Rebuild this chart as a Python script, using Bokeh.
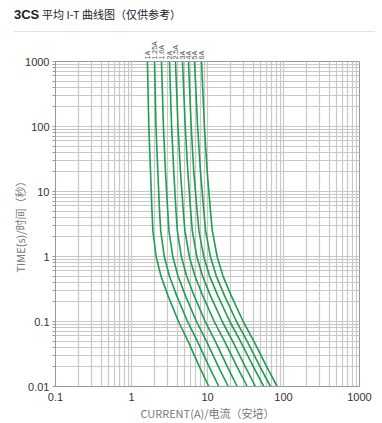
import math
from bokeh.plotting import figure
from bokeh.models import FixedTicker, Div, Range1d, LogAxis
from bokeh.layouts import column
from bokeh.embed import file_html
from bokeh.resources import INLINE

# shared time points (s)
times = [1000, 100, 20, 5, 2.5, 1, 0.5, 0.25, 0.1, 0.05, 0.02, 0.01]
ratings = ["1A", "1.25A", "1.6A", "2A", "2.5A", "3A", "4A", "5A", "6A"]

# current (A) of each curve at the time points above
cur_1A   = [1.62, 1.69, 1.78, 1.86, 1.91, 2.11, 2.44, 3.02, 4.15, 5.54, 7.85, 10.40]
cur_1_25A = [2.01, 2.10, 2.22, 2.34, 2.42, 2.70, 3.15, 3.93, 5.46, 7.34, 10.53, 14.08]
cur_1_6A = [2.48, 2.63, 2.80, 3.00, 3.11, 3.49, 4.09, 5.12, 7.17, 9.67, 13.95, 18.73]
cur_2A   = [3.16, 3.37, 3.60, 3.85, 4.01, 4.52, 5.31, 6.66, 9.33, 12.63, 18.28, 24.59]
cur_2_5A = [3.79, 4.09, 4.41, 4.80, 5.04, 5.76, 6.83, 8.65, 12.25, 16.74, 24.52, 33.30]
cur_3A   = [4.69, 5.09, 5.51, 6.01, 6.31, 7.23, 8.60, 10.92, 15.61, 21.39, 31.44, 42.81]
cur_4A   = [5.62, 6.10, 6.60, 7.30, 7.71, 8.91, 10.66, 13.66, 19.65, 27.10, 40.18, 55.05]
cur_5A   = [6.75, 7.41, 8.09, 8.94, 9.44, 10.92, 13.06, 16.74, 24.07, 33.20, 49.22, 67.45]
cur_6A   = [8.34, 9.10, 9.91, 10.95, 11.57, 13.38, 15.99, 20.51, 29.50, 40.67, 60.30, 82.64]

curves = [cur_1A, cur_1_25A, cur_1_6A, cur_2A, cur_2_5A, cur_3A, cur_4A, cur_5A, cur_6A]

x_ticks = [0.1, 1, 10, 100, 1000]
x_tick_labels = ["0.1", "1", "10", "100", "1000"]
y_ticks = [0.01, 0.1, 1, 10, 100, 1000]
y_tick_labels = ["0.01", "0.1", "1", "10", "100", "1000"]

title_bold = "3CS"
title_rest = "平均 I-T 曲线图（仅供参考）"
x_title = "CURRENT(A)/电流（安培）"
y_title = "TIME(s)/时间（秒）"

GREEN = "#1f9e4f"
GRID = "#c8c8c8"

def minors(lo, hi):
    out = []
    for k in range(lo, hi):
        for m in range(2, 10):
            out.append(m * 10.0 ** k)
    return out

div = Div(
    text=(
        '<div style="font-family:\'Noto Sans CJK SC\',\'Liberation Sans\';color:#222;'
        'line-height:16px;padding-top:6px;padding-left:14px;white-space:nowrap;">'
        '<span style="font-family:\'Liberation Sans\';font-weight:bold;font-size:13px;">'
        + title_bold + '</span> <span style="font-size:11px;">' + title_rest + '</span></div>'
        '<div style="margin-top:8px;margin-left:14px;width:361px;border-top:1px solid #e2e2e2;"></div>'
    ),
    width=374, height=36, margin=(0, 0, 0, 0),
)

p = figure(
    width=374, height=387,
    x_axis_type="log", y_axis_type="log",
    x_range=Range1d(0.1, 1000), y_range=Range1d(0.01, 1000),
    output_backend="svg", toolbar_location=None,
    min_border_top=25, min_border_left=55, min_border_right=15, min_border_bottom=0,
    background_fill_color="white", border_fill_color="white",
)
p.outline_line_color = "#999999"

p.xaxis.ticker = FixedTicker(ticks=x_ticks, minor_ticks=minors(-1, 3))
p.yaxis.ticker = FixedTicker(ticks=y_ticks, minor_ticks=minors(-2, 3))
p.xaxis.major_label_overrides = dict(zip(x_ticks, x_tick_labels))
p.yaxis.major_label_overrides = dict(zip(y_ticks, y_tick_labels))

for ax in (p.xaxis, p.yaxis):
    ax.axis_line_color = "#999999"
    ax.major_label_text_font = "Liberation Sans"
    ax.major_label_text_font_size = "11px"
    ax.major_label_text_color = "#333333"
    ax.axis_label_text_font = "Noto Sans CJK SC"
    ax.axis_label_text_font_size = "11px"
    ax.axis_label_text_font_style = "normal"
    ax.axis_label_text_color = "#777777"
    ax.major_tick_in = 0
    ax.minor_tick_in = 0
    ax.major_tick_line_color = "#999999"
    ax.minor_tick_line_color = "#999999"

p.xaxis.major_tick_out = 0
p.xaxis.minor_tick_out = 0
p.xaxis.major_label_standoff = 6
p.xaxis.axis_label_standoff = 1
p.yaxis.major_tick_out = 3
p.yaxis.minor_tick_out = 3
p.yaxis.major_label_standoff = 3
p.yaxis.axis_label_standoff = -6
p.xaxis.axis_label = x_title
p.yaxis.axis_label = y_title

for g in (p.xgrid, p.ygrid):
    g.grid_line_color = GRID
    g.grid_line_width = 1.2
    g.minor_grid_line_color = GRID
    g.minor_grid_line_width = 1.2

for cur in curves:
    p.line(cur, times, line_color=GREEN, line_width=1.6)

# curve-name labels above the frame, placed by an axis at each curve's top current
top_currents = [c[0] for c in curves]
name_axis = LogAxis(
    ticker=FixedTicker(ticks=top_currents, minor_ticks=[]),
    major_label_overrides=dict(zip(top_currents, ratings)),
    major_label_orientation="vertical",
    major_label_text_font="Liberation Sans",
    major_label_text_font_size="7px",
    major_label_text_color="#555555",
    major_label_standoff=2,
    axis_line_color=None, major_tick_line_color=None, minor_tick_line_color=None,
    major_tick_in=0, major_tick_out=0, minor_tick_in=0, minor_tick_out=0,
)
p.add_layout(name_axis, "above")

layout = column(div, p, spacing=0)
open("out.html", "w").write(file_html(layout, INLINE))
